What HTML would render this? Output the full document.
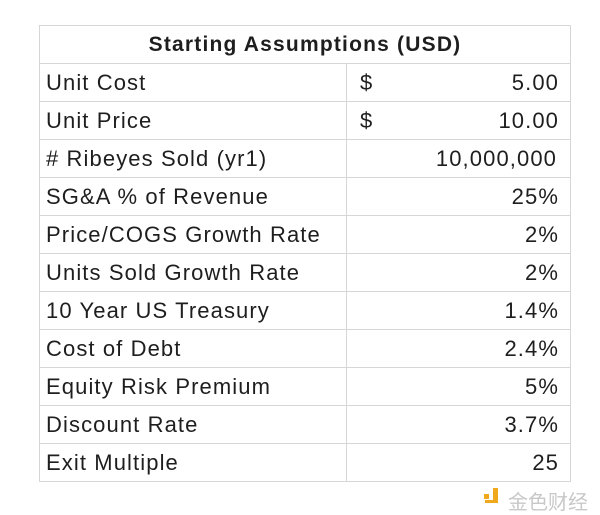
<!DOCTYPE html>
<html><head><style>
body{margin:0;width:600px;height:515px;background:#fff;position:relative;font-family:"Liberation Sans",sans-serif;color:#1e1e1e;}
table{position:absolute;left:39px;top:25px;border-collapse:collapse;width:532px;}
td{border:1.5px solid #d6d6d6;height:37px;padding:0;font-size:22px;line-height:37px;white-space:nowrap;letter-spacing:1.1px;}
td.l{width:300px;padding-left:6px;}
td.r{text-align:right;padding-right:11px;position:relative;}
.t{text-align:center;font-weight:bold;font-size:21px;letter-spacing:1.2px;}
.d{position:absolute;left:13px;}
.wm{position:absolute;top:486px;font-size:20px;color:#c8c8c8;font-family:"Noto Sans CJK SC",sans-serif;}
.ic{position:absolute;left:484px;top:488px;width:17px;height:17px;}
</style></head><body>
<table>
<tr><td colspan="2" class="t">Starting Assumptions (USD)</td></tr>
<tr><td class="l">Unit Cost</td><td class="r"><span class="d">$</span>5.00</td></tr>
<tr><td class="l">Unit Price</td><td class="r"><span class="d">$</span>10.00</td></tr>
<tr><td class="l"># Ribeyes Sold (yr1)</td><td class="r" style="padding-right:13px">10,000,000</td></tr>
<tr><td class="l">SG&amp;A % of Revenue</td><td class="r">25%</td></tr>
<tr><td class="l">Price/COGS Growth Rate</td><td class="r">2%</td></tr>
<tr><td class="l">Units Sold Growth Rate</td><td class="r">2%</td></tr>
<tr><td class="l">10 Year US Treasury</td><td class="r">1.4%</td></tr>
<tr><td class="l">Cost of Debt</td><td class="r">2.4%</td></tr>
<tr><td class="l">Equity Risk Premium</td><td class="r">5%</td></tr>
<tr><td class="l">Discount Rate</td><td class="r">3.7%</td></tr>
<tr><td class="l">Exit Multiple</td><td class="r">25</td></tr>
</table>
<svg class="ic" viewBox="0 0 17 17"><rect x="0" y="6" width="5" height="5" fill="#f0a81c"/><path d="M9 0h5v15H1v-3h8z" fill="#f0a81c"/></svg>
<div class="wm" style="left:508px">金色财经</div>
</body></html>
